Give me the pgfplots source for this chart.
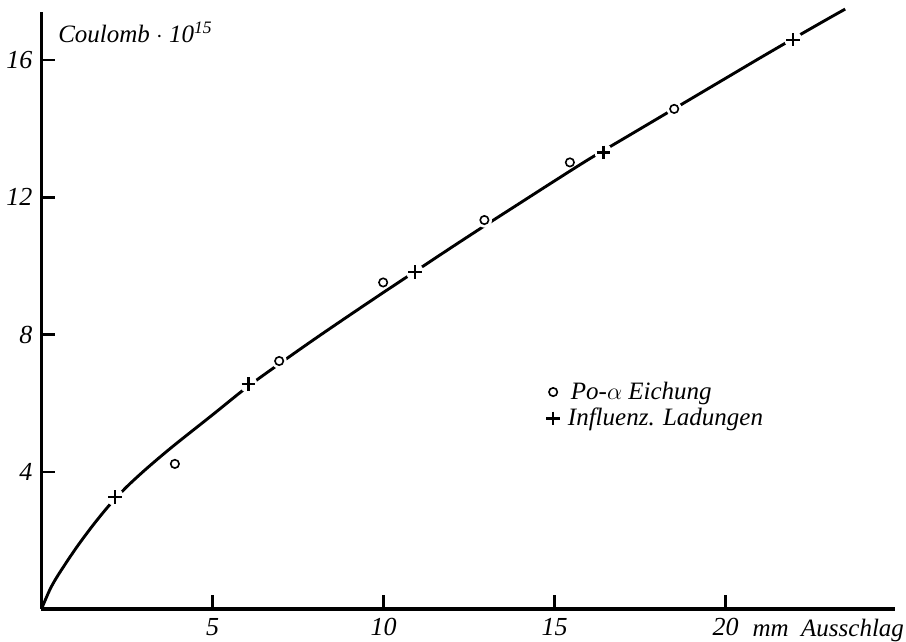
\documentclass[border=0pt]{standalone}
\usepackage{fontspec}
\setmainfont{Liberation Serif}
\usepackage{pgfplots}
\pgfplotsset{compat=1.18}
\usepackage{pgfplotstable}
\usetikzlibrary{calc}

% Eichkurve (gezeichnete Kurve)
\pgfplotstableread{
x y
0 0
0.25 0.575
0.5 1.01
1 1.76
1.5 2.435
2 3.045
2.5 3.57
3 4.03
3.5 4.46
4 4.87
5 5.66
6 6.46
7 7.18
8 7.88
9 8.56
10 9.23
11 9.89
12 10.55
13 11.20
14 11.84
15 12.48
16 13.11
17 13.70
18 14.29
19 14.88
20 15.47
21 16.06
22 16.64
23 17.21
23.5 17.49
}\kurve

% Po-alpha Eichung
\pgfplotstableread{
x y
3.90 4.23
6.95 7.23
9.99 9.52
12.95 11.34
15.45 13.02
18.50 14.58
}\poalpha

% Influenz. Ladungen
\pgfplotstableread{
x y
2.15 3.26
6.05 6.56
10.92 9.82
16.43 13.31
21.98 16.60
}\influenz

% Punkte, an denen die Kurve unterbrochen ist
\pgfplotstableread{
x y
6.95 7.23
12.95 11.34
18.50 14.58
}\luecken

\newcommand{\lbl}{\fontsize{12.5}{15}\selectfont\itshape}

\begin{document}
\begin{tikzpicture}
\begin{axis}[name=ax,
    x=17.1pt, y=17.15pt,
    xmin=0, xmax=24.95, ymin=0, ymax=17.41,
    axis lines=left,
    axis line style={-, line width=1.7pt},
    xtick={5,10,15,20}, ytick={4,8,12,16},
    tick align=inside,
    major tick length=7pt,
    tick style={line width=1.2pt, black},
    /pgf/number format/assume math mode=true,
    tick label style={font=\fontsize{13}{15}\selectfont\itshape},
    xticklabel style={yshift=-1pt},
    yticklabel style={xshift=-1pt},
    clip=false,
    legend style={draw=none, fill=none, at={(axis cs:14.75,6.75)}, anchor=north west,
        font=\lbl, row sep=-1pt, inner sep=0pt},
    legend cell align=left,
]
\addplot[smooth, line width=1.45pt, forget plot] table[x=x,y=y] {\kurve};
\addplot[white, only marks, mark=*, mark size=4.2pt, forget plot]
    table[x=x,y=y] {\influenz};
\addplot[white, only marks, mark=*, mark size=3.6pt, forget plot]
    table[x=x,y=y] {\luecken};
\addplot[black, only marks, mark=o, mark size=2.1pt, mark options={line width=0.8pt}]
    table[x=x,y=y] {\poalpha};
\addlegendentry{\hspace{3.5pt}Po-$\alpha$ Eichung}
\addplot[black, only marks, mark=+, mark size=3.4pt, mark options={line width=1.1pt}]
    table[x=x,y=y] {\influenz};
\addlegendentry{\hspace{2pt}Influenz. Ladungen}
\node[anchor=base west, font=\lbl, inner sep=0pt] at (axis cs:0.48,16.53)
    {Coulomb $\cdot$ 10\textsuperscript{15}};
\node[anchor=base west, font=\lbl, inner sep=0pt] at (axis cs:20.78,-0.79)
    {mm\enspace Ausschlag};
\end{axis}
\pgfresetboundingbox
\path[use as bounding box] ($(ax.south west)+(-20.75pt,-16.5pt)$)
    rectangle ($(ax.south west)+(432.25pt,304.5pt)$);
\end{tikzpicture}
\end{document}
